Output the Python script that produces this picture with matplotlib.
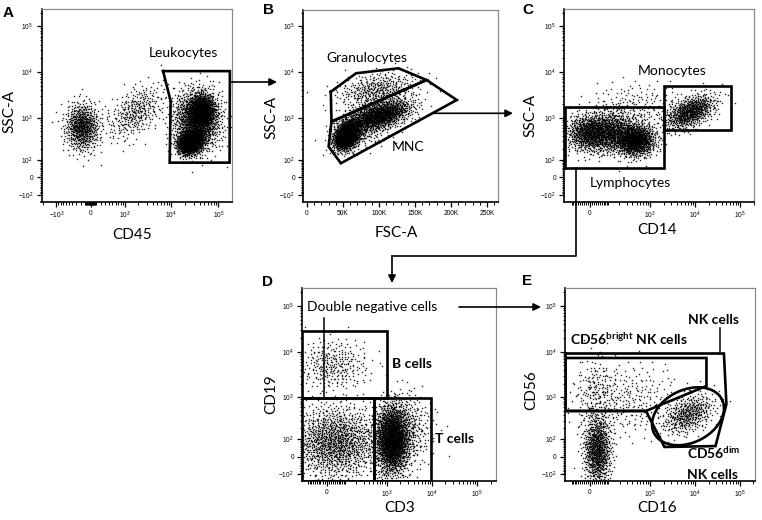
import numpy as np
import matplotlib
matplotlib.use("Agg")
import matplotlib.pyplot as plt
from matplotlib.patches import FancyArrowPatch
from matplotlib.lines import Line2D

plt.rcParams["font.family"] = ["Lato", "DejaVu Sans"]
plt.rcParams["mathtext.fontset"] = "custom"
plt.rcParams["mathtext.rm"] = "Liberation Sans"
plt.rcParams["mathtext.bf"] = "Lato:bold"

W, H = 762, 520

# ---- data (values in instrument units) ----
# populations: centre x, centre y, spread x, spread y (decades, or FSC units on a linear axis), events, correlation

# A: CD45 vs SSC-A
a_gate_x = [6700, 175000, 172000, 9250, 9700]
a_gate_y = [10500, 10500, 80, 80, 2300]
a_pops = [
    (-170, 630, 0.18, 0.26, 700, 0.0),
    (1700, 1335, 0.30, 0.30, 350, 0.5),
    (34800, 890, 0.25, 0.33, 1500, 0.0),
    (25100, 290, 0.13, 0.13, 1500, 0.2),
    (44300, 1480, 0.13, 0.17, 900, 0.0),
]

# B: FSC-A vs SSC-A
b_gran_x = [33000, 68000, 127000, 166000, 34000]
b_gran_y = [3700, 9400, 12100, 6700, 820]
b_mnc_x = [34000, 166000, 208000, 47000, 30000]
b_mnc_y = [820, 6700, 2450, 76, 222]
b_pops = [
    (55100, 414, 9000, 0.16, 1500, 0.3),
    (101400, 1150, 22000, 0.17, 1200, 0.5),
    (96800, 4050, 28000, 0.20, 420, 0.3),
    (80000, 700, 22000, 0.25, 400, 0.4),
]

# C: CD14 vs SSC-A
c_lym_x = [-150, 2000, 2000, -150]
c_lym_y = [50, 50, 1700, 1700]
c_mono_x = [2000, 62000, 62000, 2000]
c_mono_y = [530, 530, 5000, 5000]
c_pops = [
    (0, 458, 0.27, 0.20, 900, 0.0),
    (128, 484, 0.27, 0.22, 700, 0.0),
    (460, 318, 0.22, 0.175, 1100, 0.0),
    (7760, 1355, 0.28, 0.19, 750, 0.5),
    (354, 1476, 0.55, 0.30, 250, 0.2),
]

# D: CD3 vs CD19
d_b_x = [-150, 1000, 1000, -150]
d_b_y = [950, 950, 29000, 29000]
d_dn_x = [-150, 520, 520, -150]
d_dn_y = [-150, -150, 950, 950]
d_t_x = [520, 9500, 9500, 520]
d_t_y = [-150, -150, 950, 950]
d_dn_line_x = [-13, -13]
d_dn_line_y = [54000, 950]
d_pops = [
    (30, 5120, 0.40, 0.28, 300, 0.0),
    (40, 80, 0.50, 0.40, 1400, 0.0),
    (1300, 100, 0.19, 0.38, 2000, 0.0),
    (2530, 181, 0.31, 0.40, 400, 0.0),
]

# E: CD16 vs CD56
e_nk_x = [-150, 44000, 50000, 28600, 2100, 810, -150]
e_nk_y = [9150, 9150, 710, 57, 52, 500, 500]
e_bright_x = [-150, 18000, 18000, 810, -150]
e_bright_y = [7300, 7300, 1780, 500, 500]
e_dim_centre = (7000, 380)
e_dim_axes = (0.84, 0.58)   # decades
e_dim_angle = 25
e_nk_line_x = [36000, 36000]
e_nk_line_y = [33000, 9150]
e_pops = [
    (35, 35, 0.15, 0.38, 900, 0.0),
    (24, 1450, 0.22, 0.40, 150, 0.0),
    (7000, 428, 0.29, 0.22, 450, 0.4),
    (271, 876, 0.60, 0.40, 300, 0.1),
]

y_major = [-100, 0, 100, 1000, 10000, 100000]
y_labels = ["$-10^{2}$", "0", "$10^{2}$", "$10^{3}$", "$10^{4}$", "$10^{5}$"]
x_major = [0, 1000, 10000, 100000]
x_labels = ["0", "$10^{3}$", "$10^{4}$", "$10^{5}$"]
a_x_major = [-1000] + x_major
a_x_labels = ["$-10^{3}$"] + x_labels
fsc_major = [0, 50000, 100000, 150000, 200000, 250000]
fsc_labels = ["0", "50K", "100K", "150K", "200K", "250K"]

LN10 = np.log(10)


def biex(c):
    fwd = lambda v: np.arcsinh(np.asarray(v, dtype=float) / c) / LN10
    inv = lambda t: c * np.sinh(np.asarray(t, dtype=float) * LN10)
    return fwd, inv


def halton(idx, base):
    out = np.zeros(len(idx))
    f = 1.0
    i = idx.copy()
    while (i > 0).any():
        f /= base
        out += f * (i % base)
        i //= base
    return out


def qnorm(n, start):
    idx = np.arange(start, start + n, dtype=np.int64) + 1
    u1 = halton(idx, 2)
    u2 = halton(idx, 3)
    r = np.sqrt(-2 * np.log(u1))
    return r * np.cos(2 * np.pi * u2), r * np.sin(2 * np.pi * u2)


def minor_vals(lo, hi):
    v = [m * 10 ** k for k in range(1, 6) for m in range(1, 10)]
    v = sorted(set(v + [-x for x in v]))
    return [x for x in v if lo <= x <= hi]


def px_axes(l, t, r, b):
    return fig.add_axes([l / W, 1 - b / H, (r - l) / W, (b - t) / H])


def style(ax):
    for s in ("top", "right"):
        ax.spines[s].set_color("#8a8a8a")
        ax.spines[s].set_linewidth(0.9)
    for s in ("left", "bottom"):
        ax.spines[s].set_color("k")
        ax.spines[s].set_linewidth(1.2)
    ax.tick_params(which="major", length=3.5, width=0.9, pad=2.5, labelsize=4.8)
    ax.tick_params(which="minor", length=1.8, width=0.7)
    for lab in ax.get_xticklabels() + ax.get_yticklabels():
        lab.set_family("Liberation Sans")


def setup_y(ax, tlim):
    fy, iy = biex(100)
    ax.set_yscale("function", functions=(fy, iy))
    lo, hi = float(iy(tlim[0])), float(iy(tlim[1]))
    ax.set_yticks(y_major, y_labels)
    ax.set_yticks(minor_vals(lo, hi), minor=True)
    ax.set_ylim(lo, hi)
    return fy, iy


def setup_x(ax, c, tlim, ticks, labels):
    fx, ix = biex(c)
    ax.set_xscale("function", functions=(fx, ix))
    lo, hi = float(ix(tlim[0])), float(ix(tlim[1]))
    ax.set_xticks(ticks, labels)
    ax.set_xticks(minor_vals(lo, hi), minor=True)
    ax.set_xlim(lo, hi)
    return fx, ix


def draw_pops(ax, pops, fx, ix, fy, iy, start):
    for cx, cy, sx, sy, n, rho in pops:
        z1, z2 = qnorm(n, start)
        start += n
        tx = fx(cx) + sx * z1
        ty = fy(cy) + sy * (rho * z1 + np.sqrt(1 - rho ** 2) * z2)
        ax.plot(ix(tx), iy(ty), "s", ms=1.0, mew=0, color="k", alpha=0.85)


def gate(ax, x, y, closed=True):
    x = list(x) + ([x[0]] if closed else [])
    y = list(y) + ([y[0]] if closed else [])
    ax.plot(x, y, color="k", lw=1.9, solid_joinstyle="miter")


def fp(x, y):
    return (x / W, 1 - y / H)


def ftext(x, y, s, **kw):
    kw.setdefault("ha", "left")
    kw.setdefault("va", "center")
    fig.text(x / W, 1 - y / H, s, **kw)


fig = plt.figure(figsize=(W / 100, H / 100), dpi=100)

# ---- A ----
axA = px_axes(41.5, 9, 231.7, 201.7)
fx, ix = setup_x(axA, 390, (-1.041, 2.991), a_x_major, a_x_labels)
fy, iy = setup_y(axA, (-0.537, 3.682))
draw_pops(axA, a_pops, fx, ix, fy, iy, 1)
gate(axA, a_gate_x, a_gate_y)
style(axA)

# ---- B ----
axB = px_axes(303.3, 10, 497.5, 201.7)
axB.set_xticks(fsc_major, fsc_labels)
axB.set_xticks(np.arange(0, 260001, 10000), minor=True)
axB.set_xlim(-5200, 264600)
fy, iy = setup_y(axB, (-0.537, 3.660))
ident = lambda v: np.asarray(v, dtype=float)
draw_pops(axB, b_pops, ident, ident, fy, iy, 9000)
gate(axB, b_gran_x, b_gran_y)
gate(axB, b_mnc_x, b_mnc_y)
style(axB)

# ---- C ----
axC = px_axes(564.3, 9, 754.3, 201.7)
fx, ix = setup_x(axC, 93, (-0.571, 3.651), x_major, x_labels)
fy, iy = setup_y(axC, (-0.537, 3.682))
draw_pops(axC, c_pops, fx, ix, fy, iy, 16000)
gate(axC, c_lym_x, c_lym_y)
gate(axC, c_mono_x, c_mono_y)
style(axC)

# ---- D ----
axD = px_axes(302.3, 288.3, 496, 480.7)
fx, ix = setup_x(axD, 93, (-0.541, 3.754), x_major, x_labels)
fy, iy = setup_y(axD, (-0.522, 3.690))
draw_pops(axD, d_pops, fx, ix, fy, iy, 22000)
gate(axD, d_b_x, d_b_y)
gate(axD, d_dn_x, d_dn_y)
gate(axD, d_t_x, d_t_y)
axD.plot(d_dn_line_x, d_dn_line_y, color="k", lw=1.1)
style(axD)

# ---- E ----
axE = px_axes(565, 288.3, 755, 480.7)
fx, ix = setup_x(axE, 93, (-0.556, 3.667), x_major, x_labels)
fy, iy = setup_y(axE, (-0.522, 3.690))
draw_pops(axE, e_pops, fx, ix, fy, iy, 30000)
gate(axE, e_nk_x, e_nk_y)
gate(axE, e_bright_x, e_bright_y)
t = np.linspace(0, 2 * np.pi, 200)
ang = np.deg2rad(e_dim_angle)
ex = e_dim_axes[0] * np.cos(t)
ey = e_dim_axes[1] * np.sin(t)
axE.plot(ix(fx(e_dim_centre[0]) + ex * np.cos(ang) - ey * np.sin(ang)),
         iy(fy(e_dim_centre[1]) + ex * np.sin(ang) + ey * np.cos(ang)),
         color="k", lw=1.9)
axE.plot(e_nk_line_x, e_nk_line_y, color="k", lw=1.1)
style(axE)

# ---- panel letters & labels ----
for (x, y, s) in [(3, 13, "A"), (263, 10, "B"), (522, 10, "C"), (262, 282.5, "D"), (522, 281, "E")]:
    ftext(x, y, s, fontsize=11, fontweight="bold", family="Liberation Sans")

lab = dict(fontsize=11, ha="center")
ftext(9.5, 111, "SSC-A", rotation=90, **lab)
ftext(131.7, 235, "CD45", **lab)
ftext(271.7, 117, "SSC-A", rotation=90, **lab)
ftext(396.7, 233, "FSC-A", **lab)
ftext(530, 115, "SSC-A", rotation=90, **lab)
ftext(656.7, 230, "CD14", **lab)
ftext(271.7, 394, "CD19", rotation=90, **lab)
ftext(400, 508, "CD3", **lab)
ftext(531.7, 390, "CD56", rotation=90, **lab)
ftext(656.7, 508, "CD16", **lab)

g = dict(fontsize=10)
ftext(148.3, 53.3, "Leukocytes", **g)
ftext(326, 58.3, "Granulocytes", **g)
ftext(391.7, 146.7, "MNC", **g)
ftext(637.7, 70.7, "Monocytes", **g)
ftext(590, 182.7, "Lymphocytes", **g)
ftext(307.3, 306.7, "Double negative cells", **g)
gb = dict(fontsize=10, fontweight="bold")
ftext(391.7, 364, "B cells", **gb)
ftext(435, 439, "T cells", **gb)
ftext(570, 339, r"$\mathbf{CD56^{bright}}$ NK cells", **gb)
ftext(688.3, 320, "NK cells", **gb)
ftext(686.7, 453.3, r"$\mathbf{CD56^{dim}}$", **gb)
ftext(686.7, 475, "NK cells", **gb)

# ---- connectors ----
def arrow(p0, p1):
    fig.add_artist(FancyArrowPatch(fp(*p0), fp(*p1), transform=fig.transFigure,
                                   arrowstyle="-|>", mutation_scale=11, lw=1.2,
                                   color="k", shrinkA=0, shrinkB=0))

arrow((230, 82), (277, 82))
arrow((433, 113.3), (513, 113.3))
fig.add_artist(Line2D([575.7 / W, 575.7 / W, 392 / W], [1 - 168 / H, 1 - 256 / H, 1 - 256 / H],
                      transform=fig.transFigure, color="k", lw=1.2))
arrow((392, 256), (392, 283))
arrow((459, 307), (541, 307))

fig.savefig("out.png", dpi=100)
